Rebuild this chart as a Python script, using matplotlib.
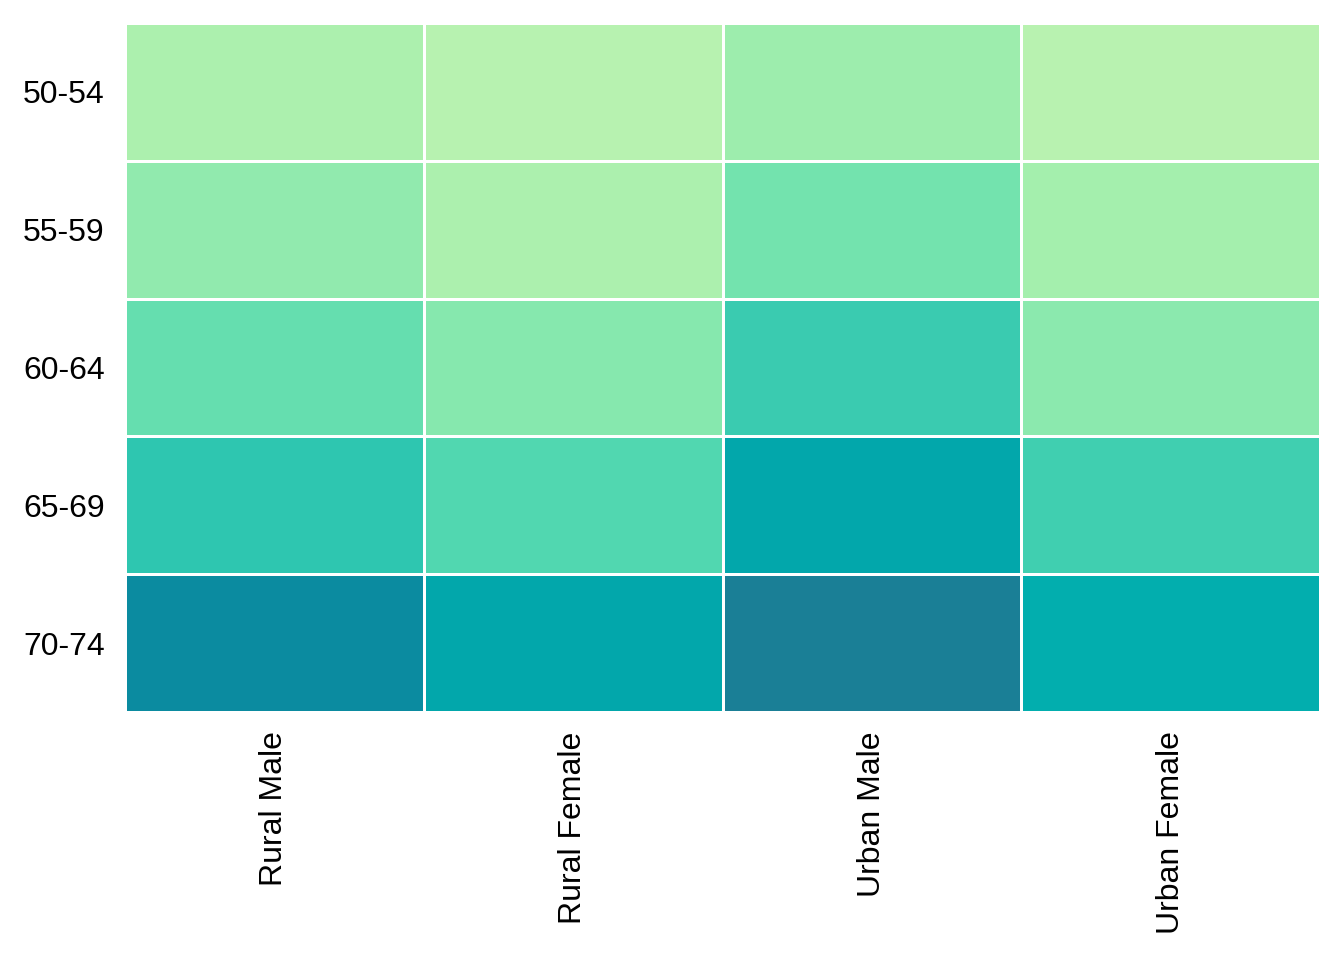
import matplotlib
matplotlib.use("Agg")
import matplotlib.pyplot as plt
import numpy as np
from matplotlib.colors import LinearSegmentedColormap, Normalize

age_groups = ["50-54", "55-59", "60-64", "65-69", "70-74"]
groups = ["Rural Male", "Rural Female", "Urban Male", "Urban Female"]
rural_male = [11.7, 18.1, 26.9, 41.0, 66.0]
rural_female = [8.7, 11.7, 20.3, 30.9, 54.3]
urban_male = [15.4, 24.3, 37.0, 54.6, 71.1]
urban_female = [8.4, 13.6, 19.3, 35.1, 50.0]

data = np.column_stack([rural_male, rural_female, urban_male, urban_female])

stops = [(0.0, "#b8f2b0"), (0.083, "#a4efad"), (0.155, "#90eaae"),
         (0.254, "#72e3ae"), (0.359, "#50d7b0"), (0.456, "#3acbb0"),
         (0.52, "#2ec6b0"), (0.663, "#02aeae"), (0.737, "#02a7ab"),
         (0.919, "#0a8ba0"), (1.0, "#1a7f96")]
cmap = LinearSegmentedColormap.from_list("tealgrn", stops)

plt.rcParams['font.family'] = ['Liberation Sans', 'DejaVu Sans']
fig = plt.figure(figsize=(13.44, 9.6), dpi=100)
ax = fig.add_axes([125/1344, 1-712/960, (1320-125)/1344, (712-23)/960])
ax.pcolormesh(np.arange(len(groups)+1), np.arange(len(age_groups)+1), data,
              cmap=cmap, norm=Normalize(data.min(), data.max()),
              edgecolors="white", linewidth=1.0)
ax.set_xlim(0, len(groups))
ax.set_ylim(len(age_groups), 0)
ax.set_xticks(np.arange(len(groups)) + 0.5)
ax.set_xticklabels(groups, rotation=90, fontsize=23)
ax.set_yticks(np.arange(len(age_groups)) + 0.5)
ax.set_yticklabels(age_groups, fontsize=23)
ax.tick_params(length=0)
ax.tick_params(axis='x', pad=14)
ax.tick_params(axis='y', pad=14.5)
for s in ax.spines.values():
    s.set_visible(False)
fig.savefig("out.png", dpi=100)
